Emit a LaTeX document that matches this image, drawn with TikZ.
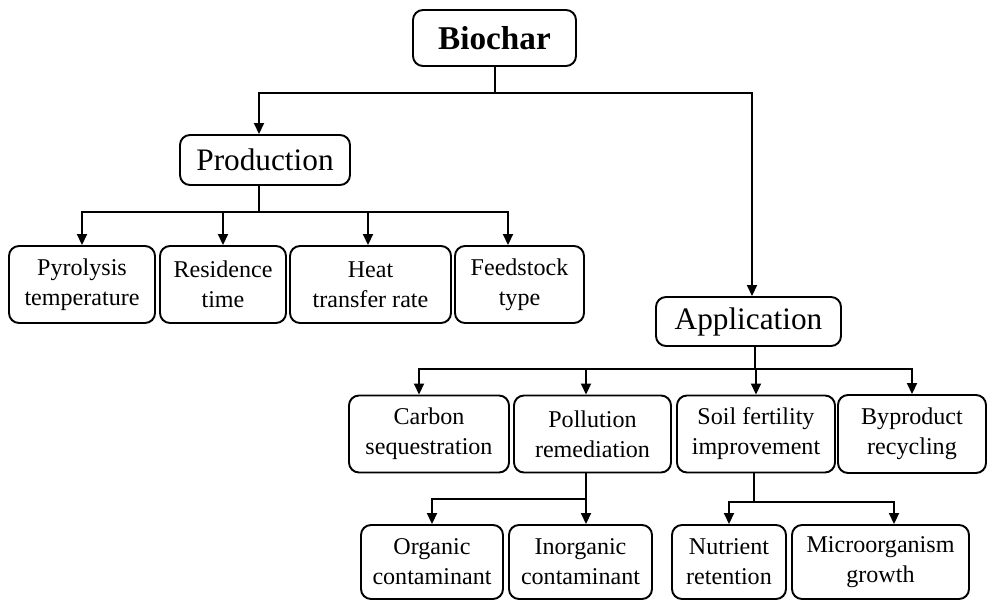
\documentclass[tikz,border=0pt]{standalone}
\usepackage{fontspec}
\setmainfont{Liberation Serif}
\usetikzlibrary{arrows.meta}

\begin{document}
\begin{tikzpicture}[
  filo/.style={draw=black, line width=1.1pt},
  freccia/.style={filo, -{Triangle[length=0.22cm, width=0.2cm]}},
  scatola/.style={draw=black, line width=1.1pt, rounded corners=0.2cm, align=center, inner sep=2pt,
    font=\fontsize{13.7}{17}\selectfont},
  titolo/.style={scatola, font=\fontsize{17.8}{21}\selectfont},
  radice/.style={scatola, font=\fontsize{18.9}{22}\selectfont\bfseries}
]

% margini della figura
\useasboundingbox (0.000,0.000) rectangle (19.740,-12.020);

%--------------------------------------------------------------
% Radice e due rami principali
%--------------------------------------------------------------
\node[radice, minimum width=3.26cm, minimum height=1.12cm] (bio) at (9.890,-0.760) {Biochar};
\node[titolo, minimum width=3.40cm, minimum height=1.00cm] (prod) at (5.300,-3.200) {Production};
\node[titolo, minimum width=3.70cm, minimum height=0.98cm] (app) at (14.970,-6.430) {Application};

\coordinate (bioBus) at (9.900,-1.860);
\draw[filo] (bio.south -| bioBus) -- (bioBus);
\draw[freccia] (bioBus) -| ([xshift=-0.12cm]prod.north);
\draw[freccia] (bioBus) -| ([xshift=0.07cm]app.north);

%--------------------------------------------------------------
% Parametri di produzione
%--------------------------------------------------------------
\node[scatola, minimum width=2.92cm, minimum height=1.54cm] (pyro) at (1.640,-5.690) {Pyrolysis\\temperature};
\node[scatola, minimum width=2.52cm, minimum height=1.54cm] (res) at (4.460,-5.690) {Residence\\time};
\node[scatola, minimum width=3.22cm, minimum height=1.54cm] (heat) at (7.410,-5.690) {Heat\\transfer rate};
\node[scatola, minimum width=2.58cm, minimum height=1.54cm] (feed) at (10.390,-5.690) {Feedstock\\type};

\coordinate (prodBus) at (5.180,-4.240);
\draw[filo] (prod.south -| prodBus) -- (prodBus);
\draw[freccia] (prodBus) -| (pyro);
\draw[freccia] (prodBus) -| (res);
\draw[freccia] (prodBus) -| ([xshift=-0.05cm]heat.north);
\draw[freccia] (prodBus) -| ([xshift=-0.23cm]feed.north);

%--------------------------------------------------------------
% Applicazioni
%--------------------------------------------------------------
\node[scatola, minimum width=3.20cm, minimum height=1.54cm] (carb) at (8.580,-8.680) {Carbon\\sequestration};
\node[scatola, minimum width=3.14cm, minimum height=1.54cm] (poll) at (11.850,-8.680) {Pollution\\remediation};
\node[scatola, minimum width=3.16cm, minimum height=1.54cm] (soil) at (15.120,-8.680) {Soil fertility\\improvement};
\node[scatola, minimum width=2.96cm, minimum height=1.56cm] (bypr) at (18.240,-8.680) {Byproduct\\recycling};

\coordinate (appBus) at (15.100,-7.380);
\draw[filo] (app.south -| appBus) -- (appBus);
\draw[freccia] (appBus) -| ([xshift=-0.20cm]carb.north);
\draw[freccia] (appBus) -| ([xshift=-0.13cm]poll.north);
\draw[freccia] (appBus) -| (soil);
\draw[freccia] (appBus) -| (bypr);

%--------------------------------------------------------------
% Sottorami: bonifica e fertilita'
%--------------------------------------------------------------
\node[scatola, minimum width=2.84cm, minimum height=1.48cm] (orga) at (8.640,-11.240) {Organic\\contaminant};
\node[scatola, minimum width=2.86cm, minimum height=1.48cm] (inor) at (11.610,-11.240) {Inorganic\\contaminant};
\node[scatola, minimum width=2.28cm, minimum height=1.48cm] (nutr) at (14.580,-11.240) {Nutrient\\retention};
\node[scatola, minimum width=3.54cm, minimum height=1.48cm] (micr) at (17.610,-11.240) {Microorganism\\growth};

\coordinate (pollBus) at (11.720,-9.980);
\draw[filo] (poll.south -| pollBus) -- (pollBus);
\draw[freccia] (pollBus) -| (orga);
\draw[freccia] (pollBus) -| ([xshift=0.11cm]inor.north);

\coordinate (soilBus) at (15.080,-10.040);
\draw[filo] (soil.south -| soilBus) -- (soilBus);
\draw[freccia] (soilBus) -| (nutr);
\draw[freccia] (soilBus) -| ([xshift=0.27cm]micr.north);

\end{tikzpicture}
\end{document}
